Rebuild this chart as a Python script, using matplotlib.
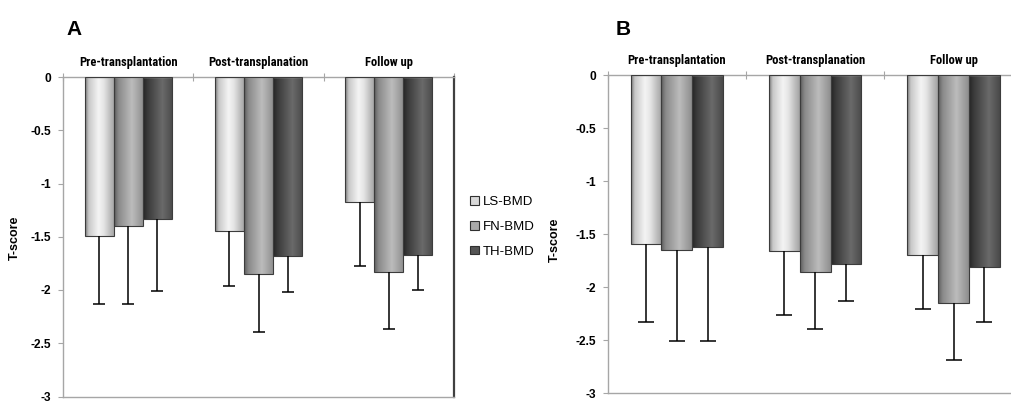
import numpy as np
import matplotlib
matplotlib.use("Agg")
import matplotlib.pyplot as plt
from matplotlib.patches import Patch
from matplotlib import font_manager as fm
from matplotlib.colors import to_rgb

# ---------------- data ----------------
categories = ["Pre-transplantation", "Post-transplanation", "Follow up"]
series = ["LS-BMD", "FN-BMD", "TH-BMD"]

# Panel A: means and lower ends of error bars
a_ls = [-1.49, -1.45, -1.17]
a_fn = [-1.40, -1.85, -1.83]
a_th = [-1.33, -1.68, -1.67]
a_ls_low = [-2.13, -1.96, -1.77]
a_fn_low = [-2.13, -2.39, -2.37]
a_th_low = [-2.01, -2.02, -2.00]

# Panel B
b_ls = [-1.59, -1.66, -1.70]
b_fn = [-1.65, -1.86, -2.15]
b_th = [-1.62, -1.78, -1.81]
b_ls_low = [-2.33, -2.26, -2.21]
b_fn_low = [-2.51, -2.39, -2.69]
b_th_low = [-2.51, -2.13, -2.33]

yticks = [0, -0.5, -1, -1.5, -2, -2.5, -3]
ytick_labels = ["0", "-0.5", "-1", "-1.5", "-2", "-2.5", "-3"]

# ---------------- style ----------------
fonts = fm.fontManager.ttflist
names = {f.name for f in fonts}
bold_names = {f.name for f in fonts if (isinstance(f.weight, int) and f.weight >= 600)
              or str(f.weight).lower() in ("bold", "semibold", "demibold", "heavy", "black", "extra bold")}
narrow_list = [n for n in ["Roboto Condensed", "Fira Sans Condensed", "Barlow Semi Condensed"]
               if n in bold_names][:1]
narrow_list += ["Liberation Sans", "DejaVu Sans"]
base = "Liberation Sans" if "Liberation Sans" in names else "DejaVu Sans"
plt.rcParams["font.family"] = [base, "DejaVu Sans"]

AXC = "#a6a6a6"
gradients = {
    "LS-BMD": ([0.0, 0.12, 0.45, 0.62, 1.0], ["#7a7a7a", "#c8c8c8", "#f4f4f4", "#e6e6e6", "#a2a2a2"]),
    "FN-BMD": ([0.0, 0.15, 0.60, 1.0], ["#5e5e5e", "#8a8a8a", "#bcbcbc", "#8e8e8e"]),
    "TH-BMD": ([0.0, 0.15, 0.65, 1.0], ["#262626", "#3a3a3a", "#6a6a6a", "#4a4a4a"]),
}
legend_colors = {"LS-BMD": "#d9d9d9", "FN-BMD": "#a9a9a9", "TH-BMD": "#555555"}


def grad_image(key, n=64):
    pos, cols = gradients[key]
    t = np.linspace(0, 1, n)
    rgb = np.array([to_rgb(c) for c in cols])
    img = np.stack([np.interp(t, pos, rgb[:, k]) for k in range(3)], axis=-1)
    return img[np.newaxis, :, :]


def panel(ax, vals, lows, capsize, right_spine=True):
    x = np.arange(len(categories)) + 0.5
    w = 0.223
    offs = [-w, 0, w]
    for s, v, lo, o in zip(series, vals, lows, offs):
        bars = ax.bar(x + o, v, width=w, facecolor="none", edgecolor="#3c3c3c",
                      linewidth=0.8, zorder=3)
        img = grad_image(s)
        for rect in bars:
            x0 = rect.get_x()
            x1 = x0 + rect.get_width()
            y0 = rect.get_y()
            y1 = y0 + rect.get_height()
            im = ax.imshow(img, extent=[x0, x1, min(y0, y1), max(y0, y1)],
                           aspect="auto", zorder=2.5, interpolation="bilinear")
            im.set_clip_path(rect)
        v = np.array(v)
        lo = np.array(lo)
        eb = ax.errorbar(x + o, v, yerr=[v - lo, np.zeros_like(v)], fmt="none",
                         ecolor="black", elinewidth=1.1, capsize=capsize,
                         capthick=1.1, zorder=4)
        # hide the caps sitting on the bar ends (zero-length side)
        for cl in eb[1]:
            if np.allclose(np.asarray(cl.get_ydata(), float), v):
                cl.set_visible(False)
    ax.set_xlim(0, 3)
    ax.set_ylim(-3, 0)
    ax.set_yticks(yticks)
    ax.set_yticklabels(ytick_labels, fontweight="bold", fontsize=8.6)
    ax.tick_params(axis="y", direction="out", length=3.5, width=0.8,
                   color=AXC, pad=5)
    ax.set_xticks([0, 1, 2, 3])
    ax.set_xticklabels([])
    ax.set_xticks(x, categories, minor=True)
    ax.tick_params(axis="x", which="major", direction="inout", length=6,
                   width=0.8, color=AXC, top=True, bottom=False,
                   labeltop=False, labelbottom=False)
    ax.tick_params(axis="x", which="minor", length=0, top=True, bottom=False,
                   labeltop=True, labelbottom=False, pad=6)
    for lab in ax.get_xticklabels(minor=True):
        lab.set_fontfamily(narrow_list)
        lab.set_fontweight("bold")
        lab.set_fontsize(9 if narrow_list[0] != "Liberation Sans" else 8.3)
    for sp in ["left", "top", "bottom"]:
        ax.spines[sp].set_color(AXC)
        ax.spines[sp].set_linewidth(1.0)
    if right_spine:
        ax.spines["right"].set_color("#404040")
        ax.spines["right"].set_linewidth(1.6)
    else:
        ax.spines["right"].set_visible(False)


W, H = 1011, 401
fig = plt.figure(figsize=(W / 100, H / 100), dpi=100)

axA = fig.add_axes([63 / W, 1 - 396.5 / H, (454 - 63) / W, (396.5 - 77) / H])
panel(axA, [a_ls, a_fn, a_th], [a_ls_low, a_fn_low, a_th_low], capsize=4.3)

axB = fig.add_axes([607.7 / W, 1 - 393.3 / H, 415 / W, (393.3 - 75) / H])
panel(axB, [b_ls, b_fn, b_th], [b_ls_low, b_fn_low, b_th_low], capsize=6.0,
      right_spine=False)

fig.text(15 / W, 1 - 238 / H, "T-score", rotation=90, ha="center", va="center",
         fontweight="bold", fontsize=9)
fig.text(555 / W, 1 - 240 / H, "T-score", rotation=90, ha="center", va="center",
         fontweight="bold", fontsize=9)

fig.text(66 / W, 1 - 35 / H, "A", fontweight="bold", fontsize=15,
         ha="left", va="baseline")
fig.text(616 / W, 1 - 35 / H, "B", fontweight="bold", fontsize=15,
         ha="left", va="baseline")

handles = [Patch(facecolor=legend_colors[s], edgecolor="#303030", linewidth=0.8)
           for s in series]
fig.legend(handles, series, loc="center left",
           bbox_to_anchor=(470 / W, 1 - 227 / H), frameon=False,
           fontsize=9.5, handlelength=0.65, handleheight=0.65,
           handletextpad=0.3, labelspacing=0.95, borderaxespad=0,
           borderpad=0)

fig.savefig("out.png", dpi=100)
